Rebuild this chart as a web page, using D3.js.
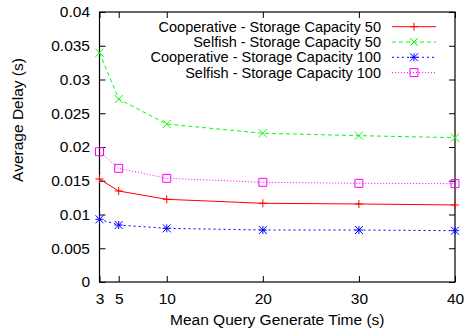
<!DOCTYPE html>
<html>
<head>
<meta charset="utf-8">
<script src="https://cdn.jsdelivr.net/npm/d3@7"></script>
<style>
  body { margin: 0; background: #fff; }
  text { font-family: "Liberation Sans", Arial, sans-serif; fill: #000; }
</style>
</head>
<body>
<script>
  // values
  const xValues = [3, 5, 10, 20, 30, 40];
  const xTicks = [3, 5, 10, 20, 30, 40];
  const yTicks = [0, 0.005, 0.01, 0.015, 0.02, 0.025, 0.03, 0.035, 0.04];
  const seriesNames = [
    "Cooperative - Storage Capacity 50",
    "Selfish - Storage Capacity 50",
    "Cooperative - Storage Capacity 100",
    "Selfish - Storage Capacity 100"
  ];
  const coop50 = [0.01526, 0.01348, 0.01225, 0.01166, 0.01156, 0.01141];
  const selfish50 = [0.03397, 0.0271, 0.0234, 0.02203, 0.02168, 0.02138];
  const coop100 = [0.00929, 0.00844, 0.00795, 0.0077, 0.0077, 0.0076];
  const selfish100 = [0.0193, 0.01684, 0.01536, 0.01477, 0.01462, 0.01457];

  const series = [
    { name: seriesNames[0], values: coop50, color: "#ff0000", dash: null, marker: "plus" },
    { name: seriesNames[1], values: selfish50, color: "#00ff00", dash: "4,3", marker: "cross" },
    { name: seriesNames[2], values: coop100, color: "#0000ff", dash: "2,3", marker: "star" },
    { name: seriesNames[3], values: selfish100, color: "#ff00ff", dash: "1,2", marker: "square" }
  ];

  const width = 465;
  const height = 335;
  const margin = { top: 12, right: 10, bottom: 53, left: 99.5 };
  const fontSize = "15.5px";

  const svg = d3.select("body")
    .append("svg")
    .attr("width", width)
    .attr("height", height);

  const x = d3.scaleLinear().domain([3, 40]).range([margin.left, width - margin.right]);
  const y = d3.scaleLinear().domain([0, 0.04]).range([height - margin.bottom, margin.top]);

  const fmtY = d => d === 0 ? "0" : String(+d.toFixed(3));

  // axes, gnuplot style: inward ticks mirrored on all sides
  svg.append("g")
    .attr("transform", `translate(0,${y(0)})`)
    .call(d3.axisBottom(x).tickValues(xTicks).tickSizeInner(-6).tickSizeOuter(0).tickPadding(10.5).tickFormat(d3.format("d")))
    .call(g => g.select(".domain").remove());
  svg.append("g")
    .attr("transform", `translate(0,${y(0.04)})`)
    .call(d3.axisTop(x).tickValues(xTicks).tickSizeInner(-6).tickSizeOuter(0).tickFormat(""))
    .call(g => g.select(".domain").remove());
  svg.append("g")
    .attr("transform", `translate(${x(3)},0)`)
    .call(d3.axisLeft(y).tickValues(yTicks).tickSizeInner(-6).tickSizeOuter(0).tickPadding(9.5).tickFormat(fmtY))
    .call(g => g.select(".domain").remove());
  svg.append("g")
    .attr("transform", `translate(${x(40)},0)`)
    .call(d3.axisRight(y).tickValues(yTicks).tickSizeInner(-6).tickSizeOuter(0).tickFormat(""))
    .call(g => g.select(".domain").remove());

  svg.selectAll(".tick text").style("font-size", fontSize).style("font-family", "'Liberation Sans', Arial, sans-serif");
  svg.selectAll(".tick line").attr("stroke", "#000");

  svg.append("rect")
    .attr("x", x(3)).attr("y", y(0.04))
    .attr("width", x(40) - x(3)).attr("height", y(0) - y(0.04))
    .attr("fill", "none").attr("stroke", "#000").attr("stroke-width", 1.2);

  svg.append("text")
    .attr("x", (x(3) + x(40)) / 2).attr("y", 325)
    .attr("text-anchor", "middle").style("font-size", fontSize)
    .text("Mean Query Generate Time (s)");
  svg.append("text")
    .attr("transform", "translate(23,120) rotate(-90)")
    .attr("text-anchor", "middle").style("font-size", fontSize)
    .text("Average Delay (s)");

  function drawMarker(g, type, color, cx, cy) {
    const s = 4;
    const p = d3.path();
    if (type === "plus" || type === "star") {
      p.moveTo(cx - s, cy); p.lineTo(cx + s, cy);
      p.moveTo(cx, cy - s); p.lineTo(cx, cy + s);
    }
    if (type === "cross" || type === "star") {
      p.moveTo(cx - s, cy - s); p.lineTo(cx + s, cy + s);
      p.moveTo(cx - s, cy + s); p.lineTo(cx + s, cy - s);
    }
    if (type === "square") {
      p.rect(cx - s, cy - s, 2 * s, 2 * s);
    }
    g.append("path").attr("d", p.toString())
      .attr("fill", "none").attr("stroke", color).attr("stroke-width", 1);
  }

  const line = d3.line().x((d, i) => x(xValues[i])).y(d => y(d));

  series.forEach(s => {
    const g = svg.append("g");
    g.append("path")
      .datum(s.values)
      .attr("d", line)
      .attr("fill", "none")
      .attr("stroke", s.color)
      .attr("stroke-width", 1)
      .attr("stroke-dasharray", s.dash);
    s.values.forEach((v, i) => drawMarker(g, s.marker, s.color, x(xValues[i]), y(v)));
  });

  // legend
  const legend = svg.append("g");
  series.forEach((s, i) => {
    const ly = 26.7 + i * 15.3;
    legend.append("text")
      .attr("x", 381).attr("y", ly).attr("dy", "0.35em")
      .attr("text-anchor", "end").style("font-size", "14.5px")
      .text(s.name);
    legend.append("line")
      .attr("x1", 392).attr("x2", 436).attr("y1", ly).attr("y2", ly)
      .attr("stroke", s.color).attr("stroke-width", 1).attr("stroke-dasharray", s.dash);
    drawMarker(legend, s.marker, s.color, 414, ly);
  });
</script>
</body>
</html>
